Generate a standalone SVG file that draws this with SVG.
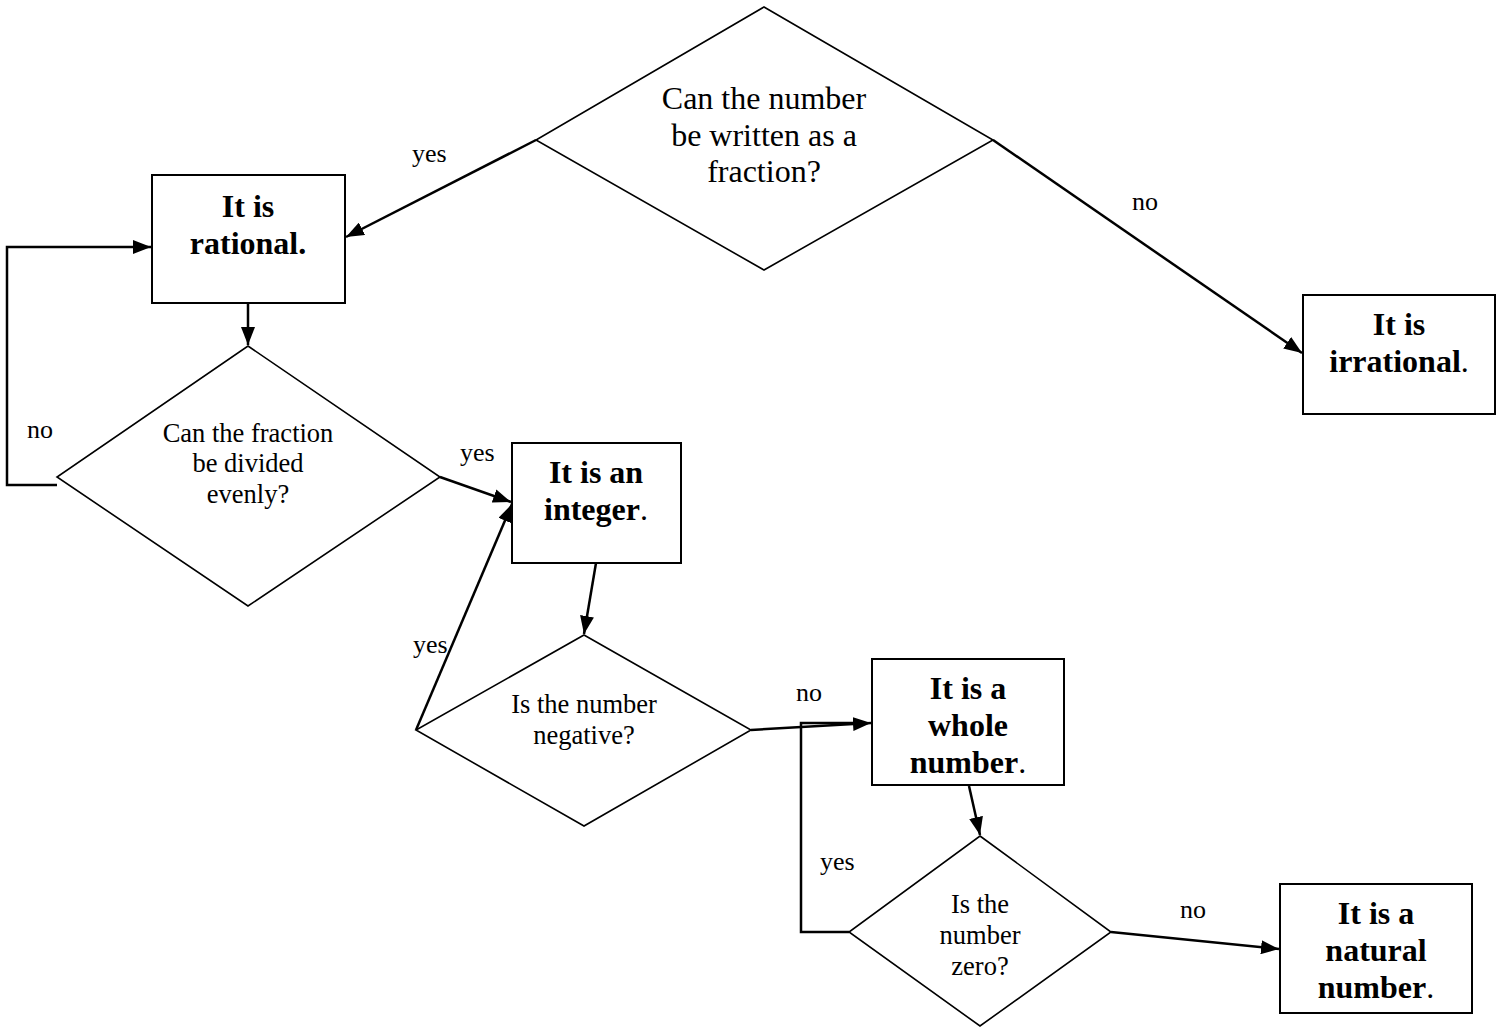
<svg xmlns="http://www.w3.org/2000/svg" width="1504" height="1027" viewBox="0 0 1504 1027">
<style>
.box{fill:#fff;stroke:#000;stroke-width:2}
.dia{fill:#fff;stroke:#000;stroke-width:1.6}
.con{fill:none;stroke:#000;stroke-width:2.5}
.bt{font-family:"Liberation Serif","Times New Roman",serif;font-size:32px;font-weight:bold;text-anchor:middle;fill:#000}
.qt{font-family:"Liberation Serif","Times New Roman",serif;font-size:32px;text-anchor:middle;fill:#000}
.st{font-family:"Liberation Serif","Times New Roman",serif;font-size:26.5px;text-anchor:middle;fill:#000}
.lb{font-family:"Liberation Serif","Times New Roman",serif;font-size:26px;fill:#000}
.n{font-weight:normal}
</style>
<defs>
<marker id="ah" markerUnits="userSpaceOnUse" markerWidth="20" markerHeight="14" refX="18" refY="7" orient="auto">
<path d="M0,0 L18,7 L0,14 z" fill="#000"/>
</marker>
</defs>
<rect width="1504" height="1027" fill="#fff"/>
<g id="connectors">
<line class="con" x1="536" y1="140" x2="346" y2="237" marker-end="url(#ah)"/>
<line class="con" x1="993" y1="140" x2="1302" y2="353" marker-end="url(#ah)"/>
<line class="con" x1="248" y1="303" x2="248" y2="345" marker-end="url(#ah)"/>
<polyline class="con" points="57,485 7,485 7,247 151,247" marker-end="url(#ah)"/>
<line class="con" x1="440" y1="477" x2="511" y2="502" marker-end="url(#ah)"/>
<line class="con" x1="416" y1="730" x2="512" y2="504" marker-end="url(#ah)"/>
<line class="con" x1="596" y1="563" x2="584" y2="634" marker-end="url(#ah)"/>
<line class="con" x1="751" y1="730" x2="871" y2="723" marker-end="url(#ah)"/>
<polyline class="con" points="849,932 801,932 801,723 860,723"/>
<line class="con" x1="969" y1="786" x2="980" y2="835" marker-end="url(#ah)"/>
<line class="con" x1="1111" y1="932" x2="1279" y2="949" marker-end="url(#ah)"/>
<text class="lb" x="412" y="162">yes</text>
<text class="lb" x="1132" y="210">no</text>
<text class="lb" x="27" y="438">no</text>
<text class="lb" x="460" y="461">yes</text>
<text class="lb" x="413" y="653">yes</text>
<text class="lb" x="796" y="701">no</text>
<text class="lb" x="820" y="870">yes</text>
<text class="lb" x="1180" y="918">no</text>
</g>
<g id="q1">
<polygon class="dia" points="764,7 993,140 764,270 536,140"/>
<text class="qt" x="764" y="109">Can the number</text>
<text class="qt" x="764" y="146">be written as a</text>
<text class="qt" x="764" y="182">fraction?</text>
</g>
<g id="rational">
<rect class="box" x="152" y="175" width="193" height="128"/>
<text class="bt" x="248" y="217">It is</text>
<text class="bt" x="248" y="254">rational.</text>
</g>
<g id="irrational">
<rect class="box" x="1303" y="295" width="192" height="119"/>
<text class="bt" x="1399" y="335">It is</text>
<text class="bt" x="1399" y="372">irrational<tspan class="n">.</tspan></text>
</g>
<g id="q2">
<polygon class="dia" points="248,346 440,477 248,606 57,477"/>
<text class="st" x="248" y="442">Can the fraction</text>
<text class="st" x="248" y="472">be divided</text>
<text class="st" x="248" y="503">evenly?</text>
</g>
<g id="integer">
<rect class="box" x="512" y="443" width="169" height="120"/>
<text class="bt" x="596" y="483">It is an</text>
<text class="bt" x="596" y="520">integer<tspan class="n">.</tspan></text>
</g>
<g id="q3">
<polygon class="dia" points="584,635 751,730 584,826 416,730"/>
<text class="st" x="584" y="713">Is the number</text>
<text class="st" x="584" y="744">negative?</text>
</g>
<g id="whole">
<rect class="box" x="872" y="659" width="192" height="126"/>
<text class="bt" x="968" y="699">It is a</text>
<text class="bt" x="968" y="736">whole</text>
<text class="bt" x="968" y="773">number<tspan class="n">.</tspan></text>
</g>
<g id="q4">
<polygon class="dia" points="980,836 1111,932 980,1026 849,932"/>
<text class="st" x="980" y="913">Is the</text>
<text class="st" x="980" y="944">number</text>
<text class="st" x="980" y="975">zero?</text>
</g>
<g id="natural">
<rect class="box" x="1280" y="884" width="192" height="129"/>
<text class="bt" x="1376" y="924">It is a</text>
<text class="bt" x="1376" y="961">natural</text>
<text class="bt" x="1376" y="998">number<tspan class="n">.</tspan></text>
</g>
</svg>
